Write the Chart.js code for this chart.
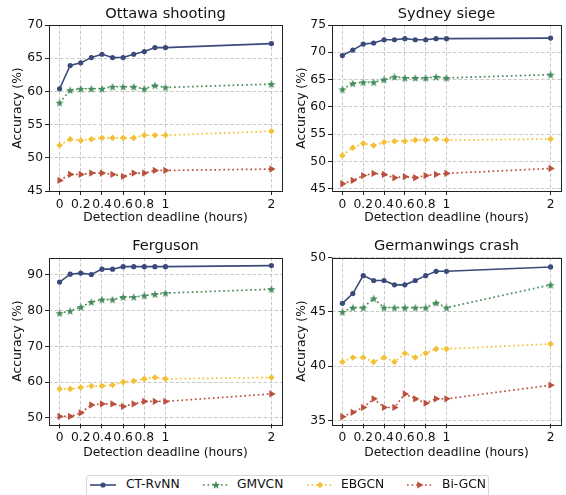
<!DOCTYPE html>
<html><head><meta charset="utf-8">
<script src="https://cdn.jsdelivr.net/npm/chart.js@4.4.0/dist/chart.umd.min.js"></script>
<style>
html,body{margin:0;padding:0;background:#fff;width:566px;height:495px;overflow:hidden;position:relative;font-family:'DejaVu Sans',sans-serif;}
canvas{position:absolute;}
#legend{position:absolute;left:86px;top:475px;width:403px;height:30px;border:1px solid #d6d6d6;border-radius:3px;box-sizing:border-box;background:#fff;}
.item{position:absolute;top:-1px;height:19px;line-height:19px;font-size:12.3px;color:#111;white-space:nowrap;}
.item svg{position:absolute;top:3.5px;}
</style></head><body>
<canvas id="c0" width="290" height="230" style="left:0;top:0;width:290px;height:230px"></canvas>
<canvas id="c1" width="286" height="230" style="left:280px;top:0;width:286px;height:230px"></canvas>
<canvas id="c2" width="290" height="235" style="left:0;top:230px;width:290px;height:235px"></canvas>
<canvas id="c3" width="286" height="235" style="left:280px;top:230px;width:286px;height:235px"></canvas>
<div id="legend"></div>
<script>
// ---------------- data ----------------
const xValues = [0, 0.1, 0.2, 0.3, 0.4, 0.5, 0.6, 0.7, 0.8, 0.9, 1, 2];
const xTickValues = [0, 0.2, 0.4, 0.6, 0.8, 1, 2];
const seriesNames = ['CT-RvNN', 'GMVCN', 'EBGCN', 'Bi-GCN'];
const panelTitles = ['Ottawa shooting', 'Sydney siege', 'Ferguson', 'Germanwings crash'];

const ottawaCT = [60.4, 63.9, 64.3, 65.1, 65.6, 65.1, 65.1, 65.6, 66.0, 66.6, 66.6, 67.2];
const ottawaGM = [58.3, 60.2, 60.4, 60.4, 60.4, 60.7, 60.7, 60.7, 60.4, 60.9, 60.6, 61.1];
const ottawaEB = [51.9, 52.8, 52.6, 52.8, 53.0, 53.0, 53.0, 53.0, 53.4, 53.4, 53.4, 54.0];
const ottawaBi = [46.6, 47.5, 47.5, 47.7, 47.7, 47.5, 47.2, 47.7, 47.7, 48.1, 48.1, 48.3];

const sydneyCT = [69.4, 70.4, 71.5, 71.7, 72.3, 72.3, 72.5, 72.3, 72.3, 72.5, 72.5, 72.6];
const sydneyGM = [63.2, 64.3, 64.5, 64.5, 65.0, 65.5, 65.3, 65.3, 65.3, 65.5, 65.3, 65.9];
const sydneyEB = [51.1, 52.5, 53.3, 52.9, 53.5, 53.7, 53.7, 53.9, 53.9, 54.1, 53.9, 54.1];
const sydneyBi = [45.9, 46.5, 47.4, 47.8, 47.6, 47.0, 47.2, 47.0, 47.4, 47.6, 47.8, 48.7];

const fergusonCT = [88.0, 90.2, 90.5, 90.1, 91.6, 91.6, 92.3, 92.3, 92.3, 92.3, 92.3, 92.6];
const fergusonGM = [79.3, 79.9, 81.0, 82.4, 83.1, 83.1, 83.8, 83.8, 84.2, 84.6, 84.9, 86.0];
const fergusonEB = [58.1, 58.1, 58.5, 58.9, 58.9, 59.2, 60.0, 60.3, 60.9, 61.3, 60.9, 61.3];
const fergusonBi = [50.4, 50.4, 51.4, 53.6, 53.9, 53.9, 53.2, 53.9, 54.6, 54.6, 54.6, 56.7];

const germanCT = [45.8, 46.7, 48.35, 47.9, 47.9, 47.5, 47.5, 47.9, 48.35, 48.75, 48.75, 49.15];
const germanGM = [45.0, 45.4, 45.4, 46.25, 45.4, 45.4, 45.4, 45.4, 45.4, 45.85, 45.4, 47.5];
const germanEB = [40.4, 40.8, 40.8, 40.4, 40.8, 40.4, 41.2, 40.8, 41.2, 41.6, 41.6, 42.05];
const germanBi = [35.35, 35.75, 36.2, 37.0, 36.2, 36.2, 37.45, 37.0, 36.6, 37.0, 37.0, 38.25];

const ottawaYTicks = [45, 50, 55, 60, 65, 70];
const sydneyYTicks = [45, 50, 55, 60, 65, 70, 75];
const fergusonYTicks = [50, 60, 70, 80, 90];
const germanYTicks = [35, 40, 45, 50];

// ---------------- styles ----------------
const NAVY = '#3a4a7b', GREEN = '#468c5a', YELLOW = '#f2c136', RED = '#b9513e';
const FONT = "'DejaVu Sans', sans-serif";
const TICK_PX = 12.3, TITLE_PX = 14.6;
Chart.defaults.font.family = FONT;
Chart.defaults.font.size = TICK_PX;
Chart.defaults.color = '#111';

function starPoints(cx, cy, R, r) {
  const pts = [];
  for (let i = 0; i < 10; i++) {
    const a = -Math.PI / 2 + i * Math.PI / 5;
    const rad = i % 2 ? r : R;
    pts.push([cx + rad * Math.cos(a), cy + rad * Math.sin(a)]);
  }
  return pts;
}
function makeStar(color) {
  const c = document.createElement('canvas');
  c.width = 10; c.height = 10;
  const g = c.getContext('2d');
  g.fillStyle = color;
  g.beginPath();
  starPoints(5, 5.4, 4.3, 1.8).forEach((p, i) => i ? g.lineTo(p[0], p[1]) : g.moveTo(p[0], p[1]));
  g.closePath(); g.fill();
  return c;
}
const starImg = makeStar(GREEN);

function ds(label, vals, idx) {
  const base = {
    label, data: xValues.map((x, i) => ({x, y: vals[i]})),
    borderCapStyle: 'butt', tension: 0, fill: false, pointBorderWidth: 0,
    pointHoverRadius: 0
  };
  if (idx === 0) return Object.assign(base, {borderColor: NAVY, backgroundColor: NAVY, borderWidth: 1.6,
    pointStyle: 'circle', pointRadius: 2.6, pointBackgroundColor: NAVY});
  const dash = [1.7, 2.8];
  if (idx === 1) return Object.assign(base, {borderColor: GREEN, backgroundColor: GREEN, borderWidth: 1.7, borderDash: dash,
    pointStyle: starImg, pointRadius: 5});
  if (idx === 2) return Object.assign(base, {borderColor: YELLOW, backgroundColor: YELLOW, borderWidth: 1.7, borderDash: dash,
    pointStyle: 'rectRot', pointRadius: 3.3, pointBackgroundColor: YELLOW});
  return Object.assign(base, {borderColor: RED, backgroundColor: RED, borderWidth: 1.7, borderDash: dash,
    pointStyle: 'triangle', pointRadius: 4.2, pointRotation: 90, pointBackgroundColor: RED});
}

const framePlugin = {
  id: 'frame',
  afterDraw(chart) {
    const {ctx, chartArea: a} = chart;
    ctx.save();
    ctx.strokeStyle = '#222';
    ctx.lineWidth = 1;
    ctx.strokeRect(Math.round(a.left) + 0.5, Math.round(a.top) + 0.5,
      Math.round(a.right - a.left), Math.round(a.bottom - a.top));
    ctx.restore();
  }
};

function makeChart(id, title, series, yMin, yMax, yTicks, L) {
  const gridCommon = {
    color: '#bdbdbd', lineWidth: 0.8, borderDash: [3.5, 2], drawTicks: true,
    tickLength: 4, tickColor: '#222', tickWidth: 1, tickBorderDash: []
  };
  new Chart(document.getElementById(id), {
    type: 'line',
    data: {datasets: series.map((v, i) => ds(seriesNames[i], v, i))},
    options: {
      responsive: false, animation: false, devicePixelRatio: 1,
      layout: {padding: {left: 0, right: L.padRight, top: 0, bottom: 0}},
      plugins: {
        legend: {display: false}, tooltip: {enabled: false},
        title: {display: true, text: title, fullSize: false,
          font: {size: TITLE_PX, weight: 'normal', family: FONT, lineHeight: 1.2}, color: '#111',
          padding: {top: L.tTop, bottom: L.tBottom}}
      },
      scales: {
        x: {
          type: 'linear', min: -0.1, max: 2.1,
          afterBuildTicks: s => { s.ticks = xTickValues.map(v => ({value: v})); },
          afterFit: s => { s.height = L.xH; },
          ticks: {callback: v => String(v), padding: 2, maxRotation: 0, autoSkip: false, font: {size: TICK_PX}},
          grid: gridCommon,
          border: {display: false, dash: [3.5, 2]},
          title: {display: true, text: 'Detection deadline (hours)', font: {size: TICK_PX, lineHeight: 1.2},
            padding: {top: 0, bottom: L.xTitlePad}, color: '#111'}
        },
        y: {
          type: 'linear', min: yMin, max: yMax,
          afterBuildTicks: s => { s.ticks = yTicks.map(v => ({value: v})); },
          afterFit: s => { s.width = L.yW; },
          ticks: {callback: v => String(v), padding: 2, font: {size: TICK_PX}},
          grid: gridCommon,
          border: {display: false, dash: [3.5, 2]},
          title: {display: true, text: 'Accuracy (%)', font: {size: TICK_PX, lineHeight: 1.2},
            padding: {top: L.yTitlePad, bottom: 0}, color: '#111'}
        }
      }
    },
    plugins: [framePlugin]
  });
}

const topL = {tTop: 5.5, tBottom: 2.0, xH: 39, xTitlePad: 4.6};
const botL = {tTop: 7.9, tBottom: 2.3, xH: 40.7, xTitlePad: 5.1};
makeChart('c0', panelTitles[0], [ottawaCT, ottawaGM, ottawaEB, ottawaBi], 45, 70, ottawaYTicks,
  Object.assign({yW: 49, padRight: 8, yTitlePad: 10.6}, topL));
makeChart('c1', panelTitles[1], [sydneyCT, sydneyGM, sydneyEB, sydneyBi], 44.57, 75, sydneyYTicks,
  Object.assign({yW: 52, padRight: 1, yTitlePad: 14.3}, topL));
makeChart('c2', panelTitles[2], [fergusonCT, fergusonGM, fergusonEB, fergusonBi], 48.2, 94.8, fergusonYTicks,
  Object.assign({yW: 49, padRight: 8, yTitlePad: 10.6}, botL));
makeChart('c3', panelTitles[3], [germanCT, germanGM, germanEB, germanBi], 34.65, 50, germanYTicks,
  Object.assign({yW: 52, padRight: 1, yTitlePad: 14.3}, botL));

// ---------------- legend ----------------
const legendPos = [{line: 3, text: 39}, {line: 116, text: 150}, {line: 220, text: 254}, {line: 320, text: 355}];
const legendColors = [NAVY, GREEN, YELLOW, RED];
function markerSvg(i, c) {
  if (i === 0) return `<circle cx="13" cy="6" r="2.6" fill="${c}"/>`;
  if (i === 1) {
    const pts = starPoints(13, 6.3, 4.3, 1.8).map(p => p[0].toFixed(2) + ',' + p[1].toFixed(2));
    return `<polygon points="${pts.join(' ')}" fill="${c}"/>`;
  }
  if (i === 2) return `<polygon points="13,2.7 16.3,6 13,9.3 9.7,6" fill="${c}"/>`;
  return `<polygon points="16.5,6 10.2,2.4 10.2,9.6" fill="${c}"/>`;
}
const leg = document.getElementById('legend');
seriesNames.forEach((name, i) => {
  const c = legendColors[i];
  const dash = i === 0 ? '' : 'stroke-dasharray="1.7 2.8"';
  const div = document.createElement('div');
  div.className = 'item';
  div.style.left = legendPos[i].line + 'px';
  div.innerHTML = `<svg width="26" height="12" style="left:0"><line x1="0" y1="6" x2="26" y2="6" stroke="${c}" stroke-width="1.6" ${dash}/>${markerSvg(i, c)}</svg>` +
    `<span style="position:absolute;left:${legendPos[i].text - legendPos[i].line}px">${name}</span>`;
  leg.appendChild(div);
});
</script>
</body></html>
